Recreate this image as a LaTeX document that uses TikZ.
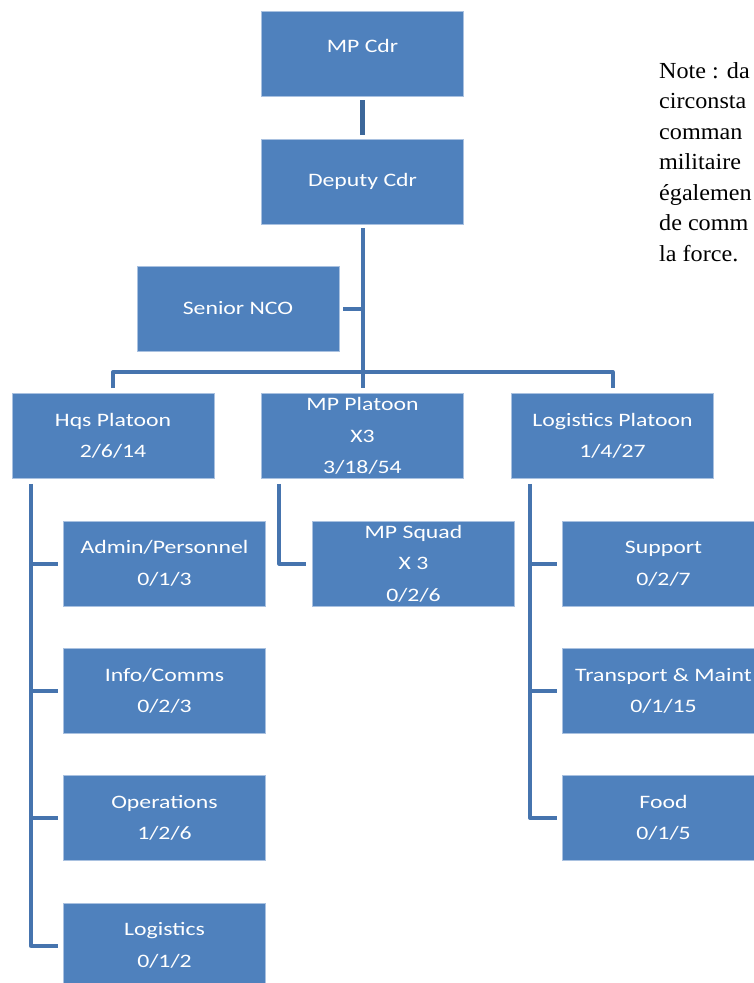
\documentclass[tikz,border=0pt]{standalone}
\usepackage{fontspec}
\setmainfont{Carlito}
\newfontfamily\boxfont[FakeStretch=1.25]{Carlito}
\newfontfamily\notefont[FakeStretch=1.05]{Liberation Serif}
\definecolor{boxblue}{HTML}{4F81BD}
\definecolor{boxedge}{HTML}{A9C1E0}
\definecolor{lineblue}{HTML}{4674AE}
\definecolor{topline}{HTML}{3C679A}
\tikzset{
  orgbox/.style={rectangle, fill=boxblue, draw=boxedge, line width=0.8pt,
    minimum width=202pt, minimum height=85pt, inner sep=0pt, text=white,
    align=center, font=\boxfont\fontsize{19}{31.5}\selectfont},
  conn/.style={draw=lineblue, line width=4pt, line join=round},
  noteText/.style={anchor=north west, inner sep=0pt, align=left,
    font=\notefont\fontsize{23}{30.5}\selectfont}
}
\begin{document}
\begin{tikzpicture}[x=1pt, y=-1pt]
\useasboundingbox (0,0) rectangle (754,983);
\clip (0,0) rectangle (754,983);
\fill[white] (0,0) rectangle (754,983);

% boxes
\node[orgbox] (cdr) at (362.5,53.5) {\raisebox{16pt}{MP Cdr}};
\node[orgbox] (dep) at (362.5,181.5) {Deputy Cdr};
\node[orgbox] (nco) at (238,308.5) {Senior NCO};
\node[orgbox] (hqs) at (113,436) {Hqs Platoon\\2/6/14};
\node[orgbox] (mpp) at (362.5,436) {MP Platoon\\X3\\3/18/54};
\node[orgbox] (logp) at (612.5,436) {Logistics Platoon\\1/4/27};
\node[orgbox] (adm) at (164.5,563.5) {Admin/Personnel\\0/1/3};
\node[orgbox] (info) at (164.5,691) {Info/Comms\\0/2/3};
\node[orgbox] (ops) at (164.5,818) {Operations\\1/2/6};
\node[orgbox] (log) at (164.5,945.5) {Logistics\\0/1/2};
\node[orgbox] (sq) at (413.5,563.5) {MP Squad\\X 3\\0/2/6};
\node[orgbox] (sup) at (663.5,563.5) {Support\\0/2/7};
\node[orgbox] (trn) at (663.5,691) {Transport \& Maint\\0/1/15};
\node[orgbox] (food) at (663.5,818) {Food\\0/1/5};

% note (cut at the right edge, as in the reference)
\node[noteText] (note) at (659,62) {Note : da\\circonsta\\comman\\militaire\\égalemen\\de comm\\la force.};

% connectors
\coordinate (bar) at (362.5,372);
\draw[conn, draw=topline, line width=5pt, shorten <=4pt, shorten >=4pt] (cdr) -- (dep);
\draw[conn, shorten <=4pt] (dep.south) -- (bar);
\draw[conn, shorten <=4pt] (nco.east) -- (nco.east -| bar);
\draw[conn, shorten <=5pt, shorten >=5pt] (hqs.north) -- (hqs.north |- bar) -- (logp.north |- bar) -- (logp.north);
\draw[conn, shorten >=5pt] (bar) -- (mpp.north);

\coordinate (hqline) at ([xshift=19pt]hqs.south west);
\draw[conn, shorten <=5pt, shorten >=5pt] (hqline) |- (log.west);
\draw[conn, shorten >=5pt] (hqline |- adm.west) -- (adm.west);
\draw[conn, shorten >=5pt] (hqline |- info.west) -- (info.west);
\draw[conn, shorten >=5pt] (hqline |- ops.west) -- (ops.west);

\coordinate (mpline) at ([xshift=18pt]mpp.south west);
\draw[conn, shorten <=5pt, shorten >=6pt] (mpline) |- (sq.west);

\coordinate (lgline) at ([xshift=19pt]logp.south west);
\draw[conn, shorten <=5pt, shorten >=5pt] (lgline) |- (food.west);
\draw[conn, shorten >=5pt] (lgline |- sup.west) -- (sup.west);
\draw[conn, shorten >=5pt] (lgline |- trn.west) -- (trn.west);
\end{tikzpicture}
\end{document}
